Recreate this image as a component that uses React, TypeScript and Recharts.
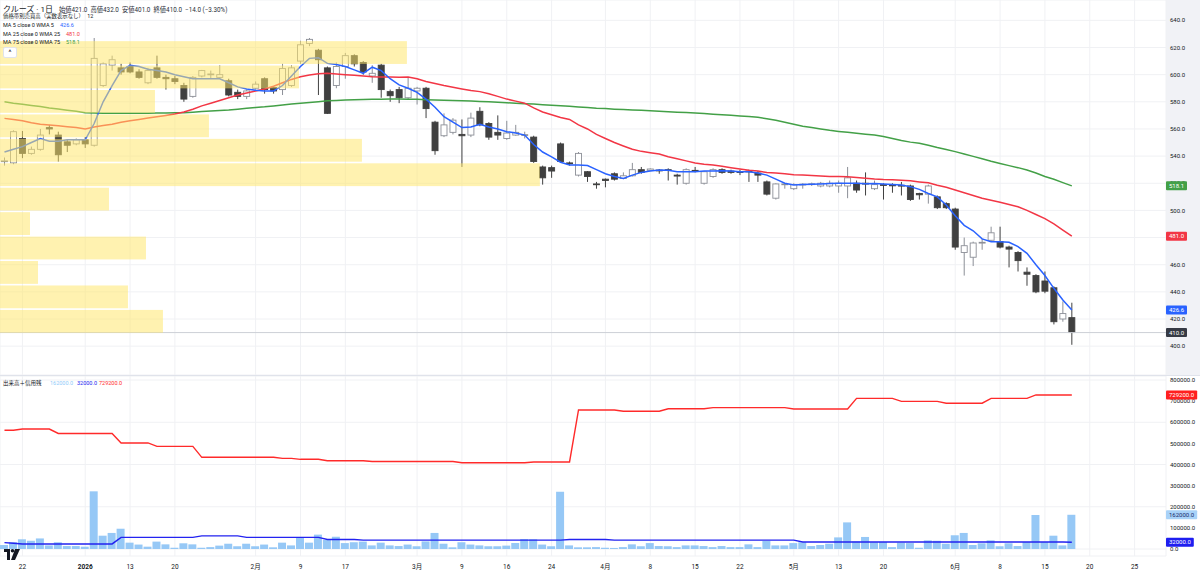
import React from "react";
import {
  Bar,
  CartesianGrid,
  ComposedChart,
  Line,
  ReferenceArea,
  ReferenceLine,
  XAxis,
  YAxis,
} from "recharts";

// trading days shown (last 10 are empty future slots)
const days = [
  "12/18", "12/19", "12/22", "12/23", "12/24", "12/25", "12/26", "12/29", "12/30",
  "1/5", "1/6", "1/7", "1/8", "1/9", "1/13", "1/14", "1/15", "1/16", "1/19", "1/20",
  "1/21", "1/22", "1/23", "1/26", "1/27", "1/28", "1/29", "1/30",
  "2/2", "2/3", "2/4", "2/5", "2/6", "2/9", "2/10", "2/12", "2/13", "2/16", "2/17",
  "2/18", "2/19", "2/20", "2/24", "2/25", "2/26", "2/27",
  "3/2", "3/3", "3/4", "3/5", "3/6", "3/9", "3/10", "3/11", "3/12", "3/13", "3/16",
  "3/17", "3/18", "3/19", "3/23", "3/24", "3/25", "3/26", "3/27", "3/30", "3/31",
  "4/1", "4/2", "4/3", "4/6", "4/7", "4/8", "4/9", "4/10", "4/13", "4/14", "4/15",
  "4/16", "4/17", "4/20", "4/21", "4/22", "4/23", "4/24", "4/27", "4/28", "4/30",
  "5/1", "5/7", "5/8", "5/11", "5/12", "5/13", "5/14", "5/15", "5/18", "5/19", "5/20",
  "5/21", "5/22", "5/25", "5/26", "5/27", "5/28", "5/29",
  "6/1", "6/2", "6/3", "6/4", "6/5", "6/8", "6/9", "6/10", "6/11", "6/12", "6/15",
  "6/16", "6/17", "6/18",
  "6/19", "6/20", "6/21", "6/22", "6/23", "6/24", "6/25", "6/26", "6/27", "6/28",
];

const dayLabels: Record<string, string> = {
  "12/22": "22", "1/5": "2026", "1/13": "13", "1/20": "20", "2/2": "2月", "2/9": "9",
  "2/17": "17", "3/2": "3月", "3/9": "9", "3/16": "16", "3/24": "24", "4/1": "4月",
  "4/8": "8", "4/15": "15", "4/22": "22", "5/1": "5月", "5/13": "13", "5/20": "20",
  "6/1": "6月", "6/8": "8", "6/15": "15", "6/20": "20", "6/25": "25",
};
const tickDays = Object.keys(dayLabels);

const opens = [
  536, 535, 553, 542, 545, 561, 555.5, 550.5, 549, 552,
  548, 592, 607, 605, 606, 602, 594, 605, 598, 597,
  592, 584, 599, 600, 598, 595.5, 587, 584, 590, 597,
  590.5, 589, 592, 610, 623, 618, 605, 592, 606, 614,
  609, 599, 607, 587.5, 589, 583, 588, 590, 565, 555,
  557.5, 556, 555.5, 573, 564, 557.5, 553, 555.5, 555.5, 554,
  532, 531.5, 549, 535, 526, 528.5, 519.5, 523, 527, 523.5,
  525.5, 530, 529.5, 529.7, 530, 526, 520, 529.5, 520, 525,
  530, 529, 528.5, 529, 527.5, 521, 509, 519, 516, 519,
  519.3, 518, 518, 518, 518, 520, 520, 516, 519, 518.7,
  518.5, 518, 512.5, 512, 510, 505, 501, 469, 465.5, 476,
  478, 477, 473, 469, 454.5, 452, 448, 443, 420, 421,
];
const highs = [
  539, 559, 558.5, 547, 560, 563, 558, 552, 553, 554,
  627, 609, 614, 608, 609, 604, 605, 614, 600, 599,
  594, 599, 603.5, 603, 607, 597, 589, 589, 595, 598,
  591, 608, 607, 625, 627, 619, 606, 609, 616, 615,
  610, 607, 608, 589, 591, 598, 591, 591, 566, 571.5,
  568, 567, 572, 576, 565, 570, 566, 563, 558, 555,
  533, 533, 550, 536, 543, 529, 521, 523.5, 528, 528,
  535, 532, 531, 530.5, 531, 527, 531, 532, 529, 531,
  531, 530, 530, 530, 529, 522, 520, 520, 520, 520,
  520.5, 521, 522, 522, 532, 522, 528, 522, 520, 520,
  521, 519, 513, 519, 511, 506, 502, 480, 477, 479,
  488, 488, 474, 470, 458, 453, 455, 444, 433, 432,
];
const lows = [
  533, 534, 538.5, 541, 544, 556, 536, 543, 548, 546,
  547, 591, 603, 600, 601, 597, 593, 597, 589, 593,
  580, 583, 598, 597, 597, 584, 582, 582, 589, 586,
  586, 585, 591, 608, 621, 585, 571, 590, 597, 606,
  600, 594, 583, 580, 579, 582, 578, 568, 541, 554,
  556, 532, 554, 562, 552, 552, 552, 555, 553, 535,
  519, 524, 535, 533, 525, 521, 516, 517, 522, 523,
  525, 527, 529, 527, 522, 519, 519, 528, 519, 524,
  527, 527, 526, 521, 521, 511, 508, 516, 515, 516,
  518, 517, 517, 513, 509, 513, 511, 515, 508, 513,
  511, 507, 508, 505, 501, 501, 471, 452, 459, 471,
  477, 472, 458, 455, 444.5, 439, 439, 416, 418, 401,
];
const closes = [
  536.5, 558, 542, 545, 555.5, 560, 541, 548, 552, 549,
  612, 608, 611, 602, 602, 598, 603, 598, 597, 595,
  582, 598, 603, 600.5, 600, 585, 584, 588, 593, 589,
  588, 604.5, 605, 622, 626, 611, 571.5, 606, 614, 608,
  602, 601, 589, 584.5, 583, 590, 590, 575, 544, 563,
  566.5, 555, 568, 563, 554, 555.5, 557, 557.5, 555.8, 536,
  524, 529, 536, 534.5, 542, 525, 519, 522, 523, 525.5,
  530, 528, 530.5, 529.5, 529.5, 525.3, 530, 529.2, 528.5, 530,
  528, 528, 528, 528.5, 526, 512, 519.5, 519.5, 519, 519.3,
  519.6, 520, 520, 520, 524, 515, 519.8, 519, 518.7, 518.5,
  518, 508, 511.5, 518, 502, 502, 473, 474, 476, 476.5,
  483.5, 473, 471.5, 463, 453, 440, 440.5, 418, 424, 410,
];

const ma5 = [
  543, 545, 547, 550, 553, 551, 551, 552, 552, 552,
  564, 580, 592, 603, 607, 606, 604, 603, 602, 600,
  598.5, 597, 597, 597, 597, 594, 591, 589.5, 588.5, 588,
  588, 592, 599, 606, 612, 612.5, 608.3, 607.5, 606, 603.5,
  601, 605.5, 603, 597, 592.5, 590, 587, 582, 576, 569,
  565, 561, 561.5, 563.5, 561.5, 560, 558, 557, 555.5, 548.5,
  543, 539.5, 535.5, 533.4, 533.4, 533, 530, 527, 525, 523.5,
  526, 528, 529, 529.7, 529.5, 528.5, 528.5, 528.5, 529, 529,
  529.2, 529, 528.5, 528.5, 527.5, 526, 523, 520, 518.7, 519,
  519.2, 519.5, 519.8, 520, 520, 520, 519.6, 519.8, 519.4, 519,
  518.7, 517.5, 515.5, 512.5, 510, 504, 496, 489, 485, 479,
  477, 477, 476.5, 473.3, 468.4, 460, 452, 442.6, 434, 426.6,
];
const ma25 = [
  567.8, 567, 566, 564.5, 563.5, 563, 562.3, 561.6, 561, 560,
  561.5, 562.5, 563.5, 565, 566, 567, 568, 569, 570, 571,
  572.5, 574.5, 577, 579, 581, 583, 585, 586.5, 588, 589.5,
  591.5, 594, 596.5, 598.5, 599.7, 600.7, 601, 600.5, 600, 599.5,
  599, 598.5, 598.3, 598.2, 598.1, 598.3, 597, 595, 593.5, 592,
  590.7, 589.5, 588.3, 587.5, 586, 584, 582, 580.5, 579, 575.5,
  572.5, 570.5, 568.5, 567, 563, 560, 556, 553, 550, 547.5,
  545, 543.5, 542.5, 541.5, 539.5, 538, 536.5, 535, 534, 533.4,
  532.5, 531.5, 530.5, 529.5, 529, 528, 527.5, 527, 526.3, 526,
  525.7, 525.3, 525, 524.9, 524.8, 524.3, 523.7, 523.1, 522.7, 522.5,
  522.3, 521.8, 521, 520.3, 518.5, 517, 515, 513, 511, 509,
  507.5, 506, 504.3, 502.7, 500, 497, 494, 490, 485.5, 481,
];
const ma75 = [
  580, 579, 578.2, 577.3, 576.5, 575.5, 574.7, 573.8, 573, 572,
  571.8, 571.6, 571.5, 571.5, 571.5, 571.5, 571.6, 571.7, 571.8, 571.9,
  572, 572.4, 572.8, 573.2, 573.6, 574, 574.6, 575.2, 575.8, 576.3,
  577, 577.6, 578.3, 578.9, 579.5, 580.1, 580.7, 581, 581.3, 581.5,
  581.7, 581.8, 581.9, 582, 582, 581.9, 581.8, 581.6, 581.4, 581.2,
  581, 580.8, 580.6, 580.3, 580, 579.7, 579.3, 579, 578.6, 578.3,
  577.9, 577.5, 577.1, 576.7, 576.2, 575.8, 575.3, 575, 574.6, 574.3,
  574, 573.7, 573.4, 573.1, 572.7, 572.4, 572.1, 571.7, 571.3, 570.9,
  570.5, 570.1, 569.6, 569.1, 568.6, 567.6, 566.4, 565, 563.5, 562,
  561, 560, 559, 558.2, 557.5, 556.8, 556.1, 555.5, 554.5, 553,
  551.5, 550.3, 549.5, 548, 546.3, 544.8, 543.3, 541.5, 539.8, 538,
  536.2, 534.6, 533, 531.5, 529.7, 527.6, 525, 523, 520.5, 518.1,
];

// volume, volume average and margin balance, in thousand shares
const volumes = [
  19, 32, 46, 39, 50, 17, 32, 14, 14, 11,
  273, 63, 76, 96, 30, 21, 11, 35, 22, 6,
  27, 22, 6, 9, 16, 25, 13, 25, 13, 21,
  8, 30, 17, 54, 30, 68, 43, 58, 28, 32,
  35, 17, 30, 17, 14, 21, 13, 36, 76, 25,
  8, 32, 21, 17, 13, 13, 16, 28, 47, 46,
  21, 13, 271, 17, 8, 8, 9, 6, 5, 9,
  22, 13, 28, 14, 13, 9, 17, 17, 14, 9,
  14, 9, 9, 22, 9, 38, 17, 17, 28, 32,
  14, 19, 25, 55, 126, 36, 57, 32, 33, 9,
  30, 28, 6, 41, 39, 25, 65, 76, 19, 27,
  41, 13, 27, 14, 33, 161, 33, 63, 17, 162,
];
const volumeAvg = [
  30, 27, 24, 24, 24, 24, 24, 24, 24, 24,
  24, 24, 24, 55, 55, 55, 55, 55, 55, 55,
  55, 55, 62, 62, 62, 62, 62, 55, 55, 55,
  55, 55, 55, 55, 55, 55, 45, 45, 45, 45,
  42, 42, 42, 42, 42, 42, 42, 42, 42, 42,
  42, 42, 42, 42, 42, 42, 42, 42, 42, 42,
  42, 42, 42, 45, 45, 45, 45, 45, 42, 42,
  42, 42, 42, 42, 42, 42, 42, 42, 42, 42,
  42, 42, 42, 42, 42, 42, 42, 42, 42, 33,
  33, 33, 33, 33, 33, 33, 33, 33, 33, 33,
  33, 33, 33, 33, 33, 33, 33, 33, 33, 33,
  33, 33, 33, 33, 33, 33, 33, 33, 33, 32,
];
const marginBalance = [
  562, 562, 568, 568, 568, 568, 547, 547, 547, 547,
  547, 547, 547, 502, 502, 502, 502, 486, 486, 486,
  486, 486, 434, 434, 434, 434, 434, 434, 434, 434,
  434, 429, 429, 424.5, 424.5, 424.5, 418, 418, 418, 418,
  418, 414, 414, 414, 414, 414, 414, 414, 414, 414,
  414, 408.6, 408.6, 408.6, 408.6, 408.6, 408.6, 408.6, 408.6, 412,
  412, 412, 412, 412, 658, 658, 658, 658, 658, 652,
  652, 652, 652, 652, 664, 664, 664, 664, 664, 669,
  669, 669, 669, 669, 669, 669, 669, 669, 663, 663,
  663, 663, 663, 663, 663, 713, 713, 713, 713, 713,
  699, 699, 699, 699, 699, 690, 690, 690, 690, 690,
  713, 713, 713, 713, 713, 729.2, 729.2, 729.2, 729.2, 729.2,
];

// volume by price, 12 bins (low edge .. next edge), relative volume
const profileEdges = [409.3, 427.3, 445.3, 463.3, 481.3, 499.3, 517.3, 535.3, 553.3, 571.3, 589.3, 607.3, 625.3];
const profileVolumes = [652, 512, 152, 584, 120, 436, 2160, 1448, 836, 620, 1196, 1628];
const profileFullWidth = 4665;

const priceTicks = [380, 400, 420, 440, 460, 480, 500, 520, 540, 560, 580, 600, 620, 640];
const volumeTicks = [0, 100000, 200000, 300000, 400000, 500000, 600000, 700000, 800000];

const rows = days.map((day, i) => ({
  day,
  open: opens[i],
  high: highs[i],
  low: lows[i],
  close: closes[i],
  ma5: ma5[i],
  ma25: ma25[i],
  ma75: ma75[i],
  volume: volumes[i] != null ? volumes[i] * 1000 : undefined,
  volumeAvg: volumeAvg[i] != null ? volumeAvg[i] * 1000 : undefined,
  margin: marginBalance[i] != null ? marginBalance[i] * 1000 : undefined,
}));

const FONT = "Roboto, 'Noto Sans CJK JP', sans-serif";
const TEXT = "#131722";
const UP_LINE = "#8c8f97";
const DOWN = "#404040";

function Candle(props: any) {
  const { x, y, width, height, payload } = props;
  if (payload == null || payload.open == null) return <g />;
  const { open, close, high, low } = payload;
  const span = high - low || 1;
  const yAt = (v: number) => y + ((high - v) / span) * height;
  const up = close >= open;
  const cx = x + width / 2;
  const top = yAt(Math.max(open, close));
  const bottom = yAt(Math.min(open, close));
  const color = up ? UP_LINE : DOWN;
  return (
    <g>
      <line x1={cx} x2={cx} y1={y} y2={y + height} stroke={color} strokeWidth={1} />
      <rect
        x={x + 0.5}
        y={top}
        width={width - 1}
        height={Math.max(bottom - top, 0.8)}
        fill={up ? "#ffffff" : DOWN}
        stroke={color}
        strokeWidth={0.9}
      />
    </g>
  );
}

// a profile row: full-height band from the price axis, width scaled to its volume
function profileShape(volume: number) {
  return (p: any) => (
    <rect
      x={p.x}
      y={p.y}
      width={(p.width * volume) / profileFullWidth}
      height={p.height}
      fill="#ffe767"
      fillOpacity={0.52}
    />
  );
}

function badge(color: string, text: string, textColor = "#ffffff") {
  return (props: any) => {
    const vb = props.viewBox;
    if (!vb) return null;
    const w = text.length * 3.4 + 4;
    const bx = vb.x + vb.width;
    return (
      <g>
        <rect x={bx} y={vb.y - 4.5} width={w} height={9} fill={color} rx={1} />
        <text x={bx + w / 2} y={vb.y} dy="0.35em" textAnchor="middle" fontSize={6} fill={textColor}>
          {text}
        </text>
      </g>
    );
  };
}

function DayTick(props: any) {
  const { x, y, payload } = props;
  const label = dayLabels[payload.value] ?? "";
  return (
    <text x={x} y={y} dy="0.71em" textAnchor="middle" fontSize={6.5} fill={TEXT} fontWeight={label === "2026" ? 700 : 400}>
      {label}
    </text>
  );
}

const axisTick = { fontSize: 6, fill: TEXT };
const noMargin = { top: 0, right: 0, bottom: 0, left: 0 };

export default function App() {
  return (
    <div style={{ position: "absolute", left: 0, top: 0, width: 1200, height: 575, overflow: "hidden", background: "#fff", fontFamily: FONT }}>
      <div style={{ position: "absolute", left: 1166, top: 0, width: 34, height: 375, background: "#f1f2f6" }} />

      <div style={{ position: "absolute", left: 0, top: 0 }}>
        <ComposedChart width={1200} height={375} data={rows} margin={noMargin}>
          <CartesianGrid stroke="#f0f1f4" />
          <XAxis dataKey="day" hide ticks={tickDays} interval={0} />
          <YAxis
            orientation="right"
            width={34}
            domain={[378.75, 655]}
            ticks={priceTicks}
            allowDataOverflow
            tickSize={0}
            tickMargin={4}
            axisLine={false}
            tick={axisTick}
            tickFormatter={(v: number) => v.toFixed(1)}
          />
          <ReferenceLine y={410} stroke="#cdd0d6" strokeWidth={1} />
          <Bar
            dataKey={(d: any) => (d.high != null ? [d.low, d.high] : null)}
            barSize={7}
            shape={Candle}
            activeBar={false}
            isAnimationActive={false}
          />
          <Line dataKey="ma75" stroke="#43a047" strokeWidth={1.5} dot={false} activeDot={false} isAnimationActive={false} />
          <Line dataKey="ma25" stroke="#f23645" strokeWidth={1.5} dot={false} activeDot={false} isAnimationActive={false} />
          <Line dataKey="ma5" stroke="#2962ff" strokeWidth={1.5} dot={false} activeDot={false} isAnimationActive={false} />
          {profileVolumes.map((v, i) => (
            <ReferenceArea
              key={i}
              y1={profileEdges[i] + 0.6}
              y2={profileEdges[i + 1] - 0.6}
              shape={profileShape(v)}
              ifOverflow="visible"
              zIndex={1500}
            />
          ))}
          <ReferenceLine y={518.1} stroke="none" label={badge("#43a047", "518.1")} zIndex={2500} />
          <ReferenceLine y={481.0} stroke="none" label={badge("#f23645", "481.0")} zIndex={2500} />
          <ReferenceLine y={426.6} stroke="none" label={badge("#2962ff", "426.6")} zIndex={2500} />
          <ReferenceLine y={410.0} stroke="none" label={badge("#363a45", "410.0")} zIndex={2500} />
        </ComposedChart>
      </div>

      <div style={{ position: "absolute", left: 0, top: 375, width: 1200, height: 1, background: "#e0e3eb" }} />

      <div style={{ position: "absolute", left: 0, top: 376 }}>
        <ComposedChart width={1200} height={199} data={rows} margin={noMargin}>
          <CartesianGrid stroke="#f0f1f4" />
          <XAxis
            dataKey="day"
            ticks={tickDays}
            interval={0}
            height={19}
            tickSize={0}
            tickMargin={8}
            axisLine={false}
            tick={DayTick}
          />
          <YAxis
            orientation="right"
            width={34}
            domain={[-33136, 818935]}
            ticks={volumeTicks}
            allowDataOverflow
            tickSize={0}
            tickMargin={4}
            axisLine={false}
            tick={axisTick}
            tickFormatter={(v: number) => v.toFixed(1)}
          />
          <Bar dataKey="volume" barSize={8} fill="#96c8f6" activeBar={false} isAnimationActive={false} />
          <Line dataKey="volumeAvg" stroke="#2323f0" strokeWidth={1.4} dot={false} activeDot={false} isAnimationActive={false} />
          <Line dataKey="margin" stroke="#ff2a2a" strokeWidth={1.4} dot={false} activeDot={false} isAnimationActive={false} />
          <ReferenceLine y={729200} stroke="none" label={badge("#ff1f1f", "729200.0")} zIndex={2500} />
          <ReferenceLine y={162000} stroke="none" label={badge("#a8d2f8", "162000.0", "#1a2a6b")} zIndex={2500} />
          <ReferenceLine y={32000} stroke="none" label={badge("#1e1ef0", "32000.0")} zIndex={2500} />
        </ComposedChart>
      </div>

      <div style={{ position: "absolute", left: 3, top: 1, color: TEXT, whiteSpace: "nowrap", lineHeight: "12px" }}>
        <span style={{ fontSize: 8 }}>クルーズ · 1日</span>
        <span style={{ fontSize: 6.3, marginLeft: 6, color: "#2a2e39" }}>
          始値421.0&nbsp; 高値432.0&nbsp; 安値401.0&nbsp; 終値410.0&nbsp; −14.0 (−3.30%)
        </span>
      </div>
      <div style={{ position: "absolute", left: 3, top: 12, fontSize: 5.4, color: TEXT, whiteSpace: "nowrap", lineHeight: "8px" }}>
        価格帯別売買高（実数表示なし） <span style={{ marginLeft: 2 }}>12</span>
      </div>
      {[
        { label: "MA 5 close 0 WMA 5", value: "426.6", color: "#2962ff", top: 21, left: 60 },
        { label: "MA 25 close 0 WMA 25", value: "481.0", color: "#f23645", top: 30, left: 66 },
        { label: "MA 75 close 0 WMA 75", value: "518.1", color: "#43a047", top: 38, left: 66 },
      ].map((m) => (
        <div key={m.label} style={{ position: "absolute", left: 3, top: m.top, fontSize: 5.5, color: TEXT, whiteSpace: "nowrap", lineHeight: "8px" }}>
          {m.label}
          <span style={{ position: "absolute", left: m.left - 3, color: m.color }}>{m.value}</span>
        </div>
      ))}
      <div style={{ position: "absolute", left: 3, top: 47, width: 12, height: 9, border: "1px solid #e0e3eb", borderRadius: 2, background: "#fff", fontSize: 7, lineHeight: "11px", textAlign: "center", color: TEXT }}>
        ^
      </div>

      <div style={{ position: "absolute", left: 3, top: 379, fontSize: 5.5, color: TEXT, whiteSpace: "nowrap", lineHeight: "8px" }}>
        出来高＋信用残
        <span style={{ position: "absolute", left: 47, color: "#90caf9" }}>162000.0</span>
        <span style={{ position: "absolute", left: 74, color: "#2323f0" }}>32000.0</span>
        <span style={{ position: "absolute", left: 96, color: "#ff2a2a" }}>729200.0</span>
      </div>

      <svg style={{ position: "absolute", left: 4, top: 549 }} width={17} height={11} viewBox="0 0 17 11">
        <path d="M0 0 H6 V11 H3 V3 H0 Z" fill="#131722" />
        <circle cx={8.5} cy={1.8} r={1.8} fill="#131722" />
        <path d="M11 0 H16 L11 11 H7 Z" fill="#131722" />
      </svg>
    </div>
  );
}
